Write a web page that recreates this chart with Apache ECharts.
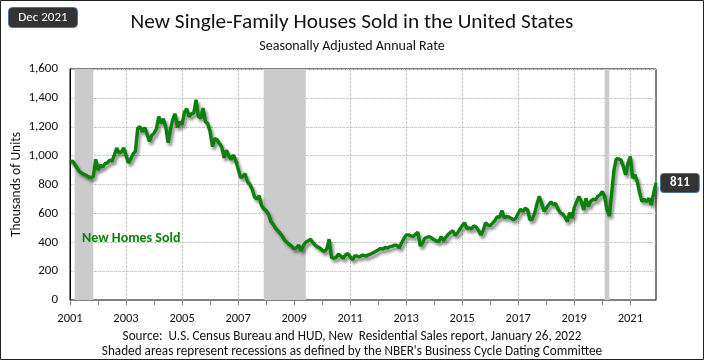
<!DOCTYPE html>
<html>
<head>
<meta charset="utf-8">
<script src="https://cdn.jsdelivr.net/npm/echarts@6/dist/echarts.min.js"></script>
<style>
html,body{margin:0;padding:0;background:#fff;}
#c{width:704px;height:360px;}
</style>
</head>
<body>
<div id="c"></div>
<script>
// Monthly new single-family houses sold (SAAR, thousands), Jan 2001 - Dec 2021
const y2001 = [950, 965, 940, 915, 890, 880, 870, 862, 852, 848, 855, 975];
const y2002 = [900, 936, 920, 945, 950, 970, 960, 1005, 1052, 1020, 1025, 1055];
const y2003 = [1000, 950, 975, 1010, 1030, 1190, 1200, 1165, 1195, 1150, 1098, 1140];
const y2004 = [1155, 1185, 1271, 1225, 1255, 1200, 1090, 1180, 1250, 1290, 1195, 1235];
const y2005 = [1215, 1300, 1325, 1270, 1290, 1295, 1387, 1270, 1260, 1329, 1235, 1222];
const y2006 = [1167, 1063, 1118, 1110, 1085, 1060, 985, 1038, 1000, 973, 1005, 965];
const y2007 = [910, 850, 855, 875, 820, 800, 770, 715, 700, 722, 655, 630];
const y2008 = [620, 595, 545, 525, 497, 480, 462, 440, 412, 398, 385, 372];
const y2009 = [355, 362, 380, 340, 378, 400, 410, 421, 400, 380, 368, 360];
const y2010 = [345, 335, 355, 421, 295, 289, 295, 318, 305, 290, 312, 322];
const y2011 = [300, 278, 305, 305, 298, 310, 308, 305, 315, 320, 328, 338];
const y2012 = [347, 358, 352, 365, 360, 370, 372, 380, 380, 360, 395, 425];
const y2013 = [451, 451, 445, 440, 455, 470, 374, 395, 428, 435, 439, 428];
const y2014 = [418, 410, 405, 440, 410, 435, 455, 468, 480, 448, 465, 490];
const y2015 = [515, 535, 495, 500, 492, 515, 505, 480, 451, 482, 535, 520];
const y2016 = [515, 532, 550, 578, 572, 620, 570, 578, 575, 565, 555, 567];
const y2017 = [601, 629, 612, 636, 624, 555, 560, 600, 665, 718, 670, 615];
const y2018 = [636, 660, 680, 660, 670, 630, 605, 596, 575, 543, 605, 567];
const y2019 = [640, 682, 717, 682, 624, 705, 650, 682, 698, 693, 717, 728];
const y2020 = [751, 717, 624, 582, 740, 901, 978, 977, 971, 925, 867, 948];
const y2021 = [994, 844, 867, 820, 740, 682, 698, 682, 705, 659, 740, 811];

const years = [2001,2002,2003,2004,2005,2006,2007,2008,2009,2010,2011,2012,2013,2014,2015,2016,2017,2018,2019,2020,2021];
const yearData = [y2001,y2002,y2003,y2004,y2005,y2006,y2007,y2008,y2009,y2010,y2011,y2012,y2013,y2014,y2015,y2016,y2017,y2018,y2019,y2020,y2021];

// Recessions (NBER), start/end month
const recessions = [["2001-03","2001-11"],["2007-12","2009-06"],["2020-02","2020-04"]];

const yTicks = [0, 200, 400, 600, 800, 1000, 1200, 1400, 1600];

const months = [];
const sales = [];
years.forEach((y, i) => {
  yearData[i].forEach((v, m) => {
    months.push(y + "-" + String(m + 1).padStart(2, "0"));
    sales.push(v);
  });
});

const FONT = "Carlito, Lato, 'Open Sans', sans-serif";
const chart = echarts.init(document.getElementById('c'), null, {renderer: 'canvas'});
chart.setOption({
  animation: false,
  backgroundColor: '#fff',
  grid: {left: 70, right: 48, top: 69, bottom: 60, containLabel: false, outerBoundsMode: 'none',
         show: true, borderColor: '#000', borderWidth: 1, backgroundColor: 'transparent'},
  xAxis: {
    type: 'category', data: months, boundaryGap: false,
    axisLine: {lineStyle: {color: '#7f7f7f', width: 1}},
    axisTick: {show: true, length: 5, interval: (i) => i % 12 === 0, lineStyle: {color: '#7f7f7f'}},
    axisLabel: {interval: (i) => i % 24 === 0, formatter: (v) => v.slice(0, 4),
                color: '#111', fontFamily: FONT, fontSize: 12.5, margin: 12},
    splitLine: {show: true, interval: (i) => i % 24 === 0, lineStyle: {color: '#c8c8c8', type: [3, 1]}}
  },
  yAxis: {
    type: 'value', min: yTicks[0], max: yTicks[yTicks.length - 1], interval: 200,
    name: 'Thousands of Units', nameLocation: 'middle', nameGap: 46, nameRotate: 90,
    nameMoveOverlap: false,
    nameTextStyle: {color: '#111', fontFamily: FONT, fontSize: 13.5},
    axisLine: {show: true, lineStyle: {color: '#000'}},
    axisTick: {show: false},
    axisLabel: {color: '#111', fontFamily: FONT, fontSize: 13, margin: 12,
                formatter: (v) => v.toLocaleString('en-US')},
    splitLine: {show: true, lineStyle: {color: '#c8c8c8', type: [3, 1]}}
  },
  series: [{
    type: 'line', data: sales, showSymbol: false, symbol: 'none',
    lineStyle: {color: '#0b800b', width: 3.4, shadowColor: 'rgba(0,0,0,0.45)', shadowBlur: 3, shadowOffsetX: 2, shadowOffsetY: 3},
    itemStyle: {color: '#0b800b'},
    endLabel: {show: true, formatter: (p) => String(p.value), distance: 5,
               color: '#fff', fontFamily: FONT, fontSize: 13, fontWeight: 'bold',
               backgroundColor: '#333', borderColor: '#4a70a8', borderWidth: 1, borderRadius: 3,
               padding: [3, 9, 2, 9]},
    markArea: {silent: true, itemStyle: {color: '#cbcbcb'},
               data: recessions.map(r => [{xAxis: r[0]}, {xAxis: r[1]}])},
    z: 3
  }],
  graphic: [
    {type: 'rect', silent: true, shape: {x: 0.5, y: 0.5, width: 703, height: 359}, style: {fill: null, stroke: '#222', lineWidth: 1}, z: 100},
    {type: 'rect', silent: true, shape: {x: 8.5, y: 7.5, width: 69, height: 20, r: 4}, style: {fill: '#333', stroke: '#4a70a8', lineWidth: 1}, z: 50},
    {type: 'text', silent: true, x: 43, y: 18, style: {text: 'Dec 2021', fill: '#fff', font: "13px " + FONT, textAlign: 'center', textVerticalAlign: 'middle'}, z: 51},
    {type: 'text', silent: true, x: 352, y: 23, style: {text: 'New Single-Family Houses Sold in the United States', fill: '#111', font: "21.3px " + FONT, textAlign: 'center', textVerticalAlign: 'middle'}},
    {type: 'text', silent: true, x: 352, y: 46, style: {text: 'Seasonally Adjusted Annual Rate', fill: '#111', font: "14px " + FONT, textAlign: 'center', textVerticalAlign: 'middle'}},
    {type: 'text', silent: true, x: 82, y: 238, style: {text: 'New Homes Sold', fill: '#0b800b', font: "bold 14px " + FONT, textAlign: 'left', textVerticalAlign: 'middle'}, z: 20},
    {type: 'text', silent: true, x: 352, y: 337, style: {text: 'Source:  U.S. Census Bureau and HUD, New  Residential Sales report, January 26, 2022', fill: '#111', font: "13.2px " + FONT, textAlign: 'center', textVerticalAlign: 'middle'}},
    {type: 'text', silent: true, x: 352, y: 352, style: {text: "Shaded areas represent recessions as defined by the NBER's Business Cycle Dating Committee", fill: '#111', font: "13.2px " + FONT, textAlign: 'center', textVerticalAlign: 'middle'}}
  ]
});
</script>
</body>
</html>
